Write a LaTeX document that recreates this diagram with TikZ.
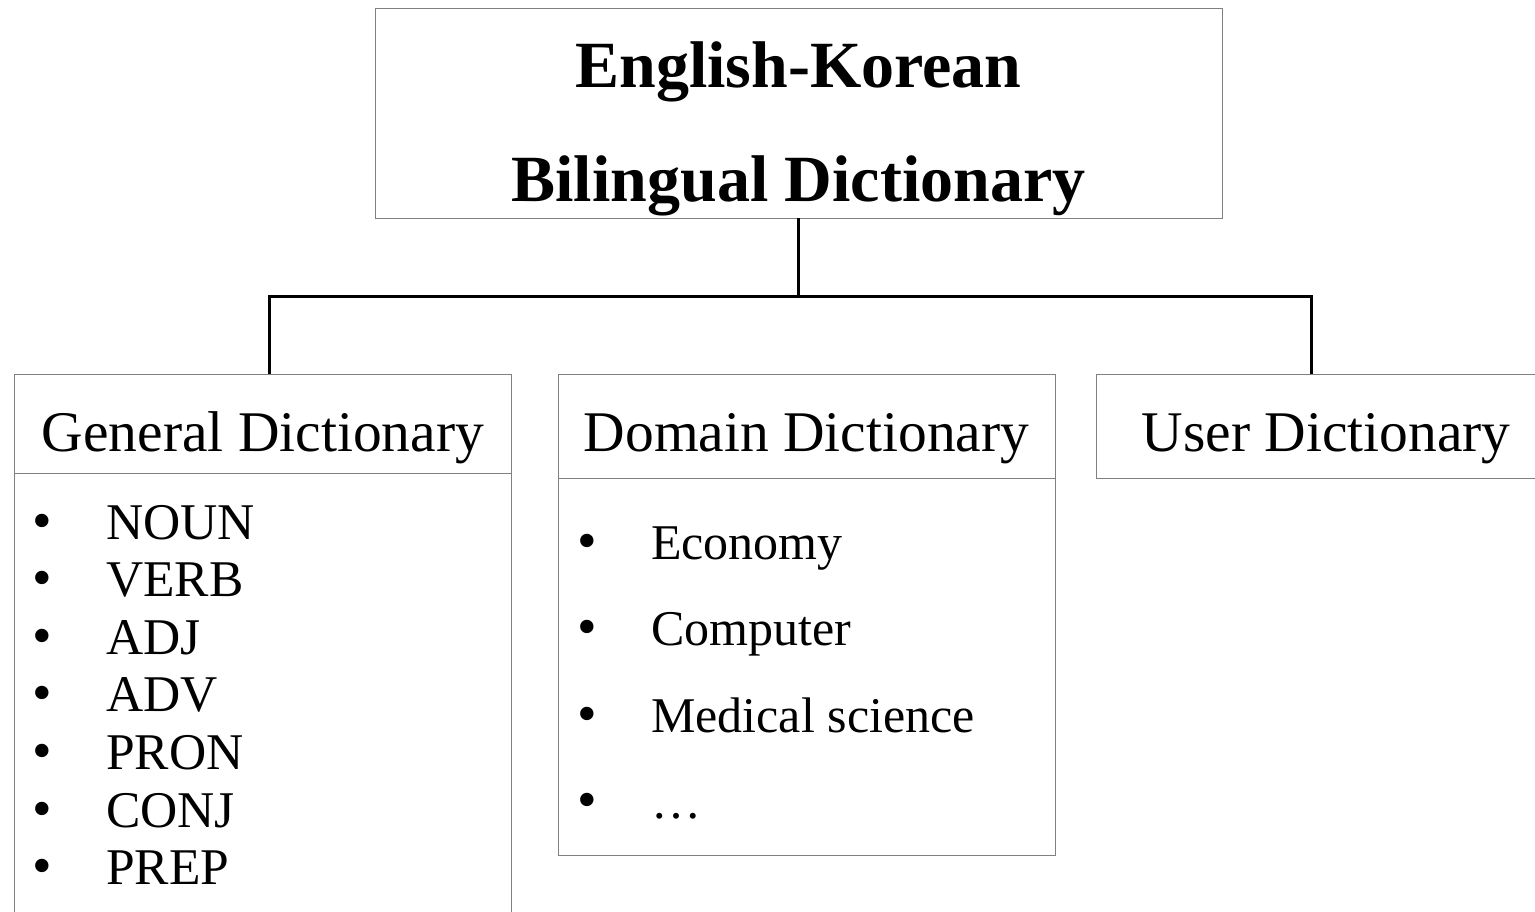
\documentclass[tikz,border=0pt]{standalone}
\usepackage{fontspec}
\setmainfont{Liberation Serif}
\begin{document}
\begin{tikzpicture}[x=1pt,y=-1pt,
  boxline/.style={draw=black!50,line width=1pt},
  panel/.style={boxline,rectangle,inner sep=0pt,outer sep=0pt,anchor=north west},
  conn/.style={draw=black,line width=3pt},
  titletext/.style={font=\fontsize{66}{66}\selectfont\bfseries,anchor=base,inner sep=0pt},
  headtext/.style={font=\fontsize{57.5}{57.5}\selectfont,anchor=base,inner sep=0pt},
  itemtext/.style={font=\fontsize{51.5}{51.5}\selectfont,anchor=base west,inner sep=0pt},
  domtext/.style={font=\fontsize{50}{50}\selectfont,anchor=base west,inner sep=0pt},
  bullet/.style={font=\fontsize{56}{56}\selectfont,anchor=base,inner sep=0pt}]
\useasboundingbox (0,0) rectangle (1535,911);
\clip (0,0) rectangle (1535,911);

% top box
\node[panel,minimum width=847pt,minimum height=210pt] (title) at (375,8) {};
\node[titletext] (t1) at (798.5,87) {English-Korean};
\node[titletext] (t2) at (798.5,201) {Bilingual Dictionary};

% general dictionary
\node[panel,minimum width=497pt,minimum height=99pt] (genh) at (14,374) {};
\node[panel,minimum width=497pt,minimum height=460pt] (genb) at (14,473) {};
\node[headtext] (genl) at (263,451) {General Dictionary};

% domain dictionary
\node[panel,minimum width=497pt,minimum height=104pt] (domh) at (558,374) {};
\node[panel,minimum width=497pt,minimum height=377pt] (domb) at (558,478) {};
\node[headtext] (doml) at (806.5,451) {Domain Dictionary};

% user dictionary
\node[panel,minimum width=460pt,minimum height=104pt] (usrh) at (1096,374) {};
\node[headtext] (usrl) at (1326,451) {User Dictionary};

% general dictionary items
\foreach \t [count=\i from 0] in {NOUN,VERB,ADJ,ADV,PRON,CONJ,PREP}{
  \node[bullet] (gb\i) at (42,539+57.6*\i) {•};
  \node[itemtext] (gi\i) at (106,539+57.6*\i) {\t};
}

% domain dictionary items
\foreach \t/\yy [count=\i from 0] in {Economy/559,Computer/645,Medical science/732,…/818}{
  \node[bullet] (db\i) at (587,\yy) {•};
  \node[domtext] (di\i) at (651,\yy) {\t};
}

% tree connectors
\coordinate (busL) at (269,296);
\coordinate (busR) at (1311,296);
\draw[conn] (title.south) -- (title.south |- busL);
\draw[conn] (genh.north -| busL) -- (busL) -- (busR) -- (usrh.north -| busR);
\end{tikzpicture}
\end{document}
